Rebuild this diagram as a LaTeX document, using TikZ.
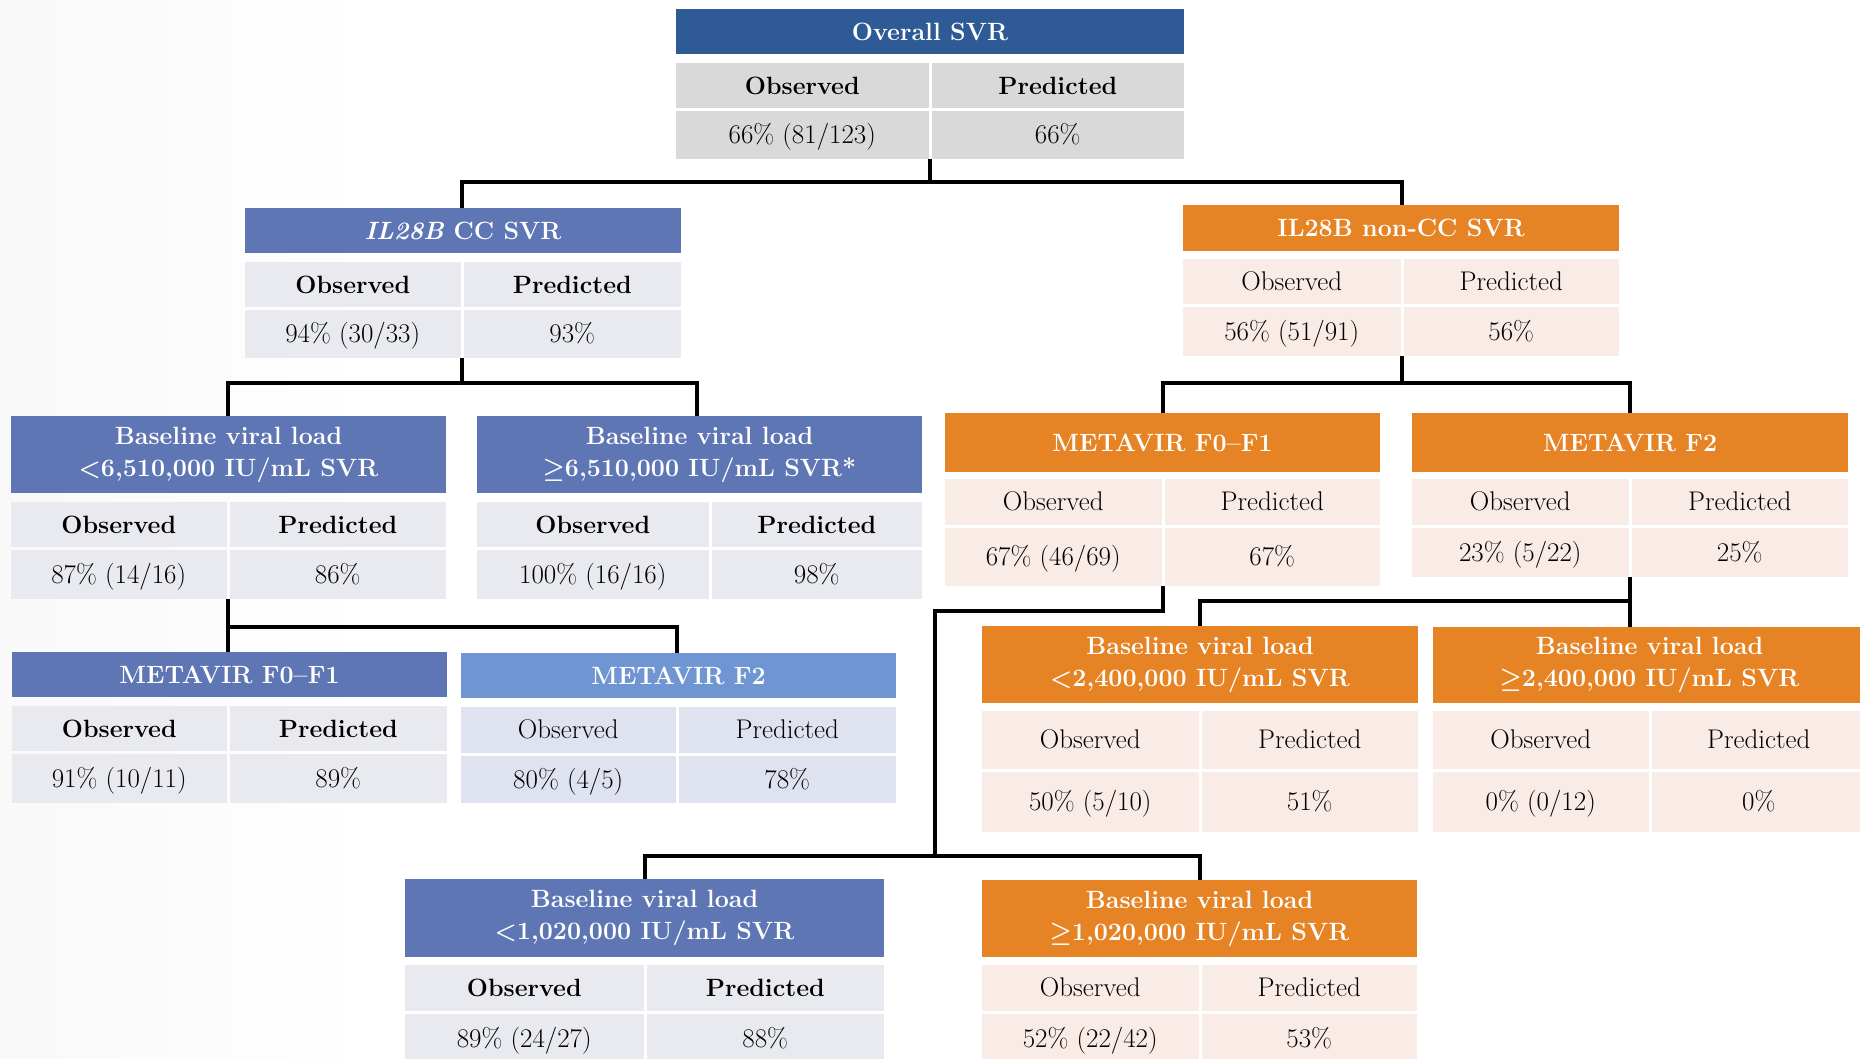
\documentclass[tikz,border=0pt]{standalone}
\usepackage{fontspec}
\definecolor{dblue}{HTML}{2E5A96}
\definecolor{mblue}{HTML}{5F76B4}
\definecolor{lblue}{HTML}{6F96D3}
\definecolor{orng}{HTML}{E68425}
\definecolor{graycell}{HTML}{D9D9D9}
\definecolor{bluecell}{HTML}{E9EAF0}
\definecolor{lbluecell}{HTML}{DFE3EF}
\definecolor{orcell}{HTML}{F9EBE6}
\newcommand\tfont{\fontsize{25}{32}\selectfont\bfseries\boldmath}
\newcommand\hbold{\fontsize{25}{29}\selectfont\bfseries}
\newcommand\hreg{\fontsize{27}{29}\selectfont}
\newcommand\vfnt{\fontsize{27}{29}\selectfont}
\pgfdeclarehorizontalshading{bgshade}{100bp}{color(0bp)=(gray!18); color(35bp)=(white); color(92bp)=(white); color(100bp)=(gray!24)}
\tikzset{
  tbase/.style={inner sep=0pt, outer sep=0pt, text=white, font=\tfont, align=center},
  cbase/.style={inner sep=0pt, outer sep=0pt, text=black, text height=21pt, text depth=4pt},
  vf/.style={font=\vfnt},
  conn/.style={line width=3.5pt, black},
  dark scheme/.style={ttl/.style={tbase, fill=dblue}, cel/.style={cbase, fill=graycell}, hd/.style={font=\hbold}},
  blue scheme/.style={ttl/.style={tbase, fill=mblue}, cel/.style={cbase, fill=bluecell}, hd/.style={font=\hbold}},
  lblue scheme/.style={ttl/.style={tbase, fill=lblue}, cel/.style={cbase, fill=lbluecell}, hd/.style={font=\hreg}},
  orange scheme/.style={ttl/.style={tbase, fill=orng}, cel/.style={cbase, fill=orcell}, hd/.style={font=\hreg}},
}
% name, x1, x2, y1, y2, style, text
\newcommand\cbox[7]{\node[#6, minimum width={(#3)-(#2)}, minimum height={(#5)-(#4)}] (#1) at ({((#2)+(#3))/2},{((#4)+(#5))/2}) {#7};}
% name, x1, xm, x2, y0, y1, text
\newcommand\svrtitle[7]{\cbox{#1}{#2}{#4}{#5}{#6}{ttl}{#7}\coordinate (#1-t) at (#3,#5);}
% name, x1, xm, x2, y2, y3, y5, obs, pred
\newcommand\svrcells[9]{%
  \cbox{#1-ho}{#2}{#3-1.5}{#5}{#6}{cel,hd}{Observed}
  \cbox{#1-hp}{#3+1.5}{#4}{#5}{#6}{cel,hd}{Predicted}
  \cbox{#1-vo}{#2}{#3-1.5}{#6+3}{#7}{cel,vf}{#8}
  \cbox{#1-vp}{#3+1.5}{#4}{#6+3}{#7}{cel,vf}{#9}
  \coordinate (#1-b) at (#3,#7);}
\begin{document}
\begin{tikzpicture}[x=1pt,y=-1pt]
\clip (0,0) rectangle (1860,1058);
\shade[shading=bgshade] (0,0) rectangle (1860,1058);

% Overall
\tikzset{dark scheme}
\svrtitle{ov}{676}{930}{1184}{9}{54}{Overall SVR}
\svrcells{ov}{676}{930}{1184}{63}{108}{159}{66\% (81/123)}{66\%}

% IL28B CC
\tikzset{blue scheme}
\svrtitle{cc}{245}{462}{681}{208}{253}{\textit{IL28B} CC SVR}
\svrcells{cc}{245}{462}{681}{262}{307}{358}{94\% (30/33)}{93\%}

% IL28B non-CC
\tikzset{orange scheme}
\svrtitle{ncc}{1183}{1402}{1619}{205}{251}{IL28B non-CC SVR}
\svrcells{ncc}{1183}{1402}{1619}{259}{304}{356}{56\% (51/91)}{56\%}

% Baseline <6,510,000
\tikzset{blue scheme}
\svrtitle{ba}{11}{228}{446}{416}{493}{Baseline viral load\\$<$6,510,000 IU/mL SVR}
\svrcells{ba}{11}{228}{446}{502}{547}{599}{87\% (14/16)}{86\%}

% Baseline >=6,510,000
\svrtitle{bb}{477}{710}{922}{416}{493}{Baseline viral load\\$\geq$6,510,000 IU/mL SVR*}
\svrcells{bb}{477}{710}{922}{502}{547}{599}{100\% (16/16)}{98\%}
\coordinate (bb-c) at (697,416);

% METAVIR F0-F1 (blue)
\svrtitle{ma}{12}{228}{447}{652}{697}{METAVIR F0\textendash F1}
\svrcells{ma}{12}{228}{447}{706}{751}{803}{91\% (10/11)}{89\%}

% METAVIR F2 (light blue)
\tikzset{lblue scheme}
\svrtitle{mb}{461}{677}{896}{653}{698}{METAVIR F2}
\svrcells{mb}{461}{677}{896}{707}{753}{803}{80\% (4/5)}{78\%}

% METAVIR F0-F1 (orange)
\tikzset{orange scheme}
\svrtitle{oa}{945}{1163}{1380}{413}{472}{METAVIR F0\textendash F1}
\svrcells{oa}{945}{1163}{1380}{479}{525}{586}{67\% (46/69)}{67\%}

% METAVIR F2 (orange)
\svrtitle{ob}{1412}{1630}{1848}{413}{472}{METAVIR F2}
\svrcells{ob}{1412}{1630}{1848}{479}{525}{577}{23\% (5/22)}{25\%}

% Baseline <2,400,000
\svrtitle{ca}{982}{1200}{1418}{626}{703}{Baseline viral load\\$<$2,400,000 IU/mL SVR}
\svrcells{ca}{982}{1200}{1418}{711}{769}{832}{50\% (5/10)}{51\%}

% Baseline >=2,400,000
\svrtitle{cb}{1433}{1650}{1866}{627}{703}{Baseline viral load\\$\geq$2,400,000 IU/mL SVR}
\svrcells{cb}{1433}{1650}{1866}{711}{769}{832}{0\% (0/12)}{0\%}
\coordinate (cb-c) at (1630,627);

% Baseline <1,020,000 (blue)
\tikzset{blue scheme}
\svrtitle{da}{405}{645}{884}{879}{957}{Baseline viral load\\$<$1,020,000 IU/mL SVR}
\svrcells{da}{405}{645}{884}{965}{1011}{1064}{89\% (24/27)}{88\%}

% Baseline >=1,020,000 (orange)
\tikzset{orange scheme}
\svrtitle{db}{982}{1200}{1417}{880}{957}{Baseline viral load\\$\geq$1,020,000 IU/mL SVR}
\svrcells{db}{982}{1200}{1417}{965}{1011}{1064}{52\% (22/42)}{53\%}

% connectors
\draw[conn] (ov-b) -- ++(0,23) -| (cc-t);
\draw[conn] (ov-b) -- ++(0,23) -| (ncc-t);
\draw[conn] (cc-b) -- ++(0,25) -| (ba-t);
\draw[conn] (cc-b) -- ++(0,25) -| (bb-c);
\draw[conn] (ncc-b) -- ++(0,27) -| (oa-t);
\draw[conn] (ncc-b) -- ++(0,27) -| (ob-t);
\draw[conn] (ba-b) -- ++(0,28) -| (ma-t);
\draw[conn] (ba-b) -- ++(0,28) -| (mb-t);
\draw[conn] (ob-b) -- ++(0,24) -| (ca-t);
\draw[conn] (ob-b) -- (cb-c);
\coordinate (k1) at (935,856);
\draw[conn] (oa-b) -- ++(0,25) -| (k1);
\draw[conn] (k1) -| (da-t);
\draw[conn] (k1) -| (db-t);
\end{tikzpicture}
\end{document}
